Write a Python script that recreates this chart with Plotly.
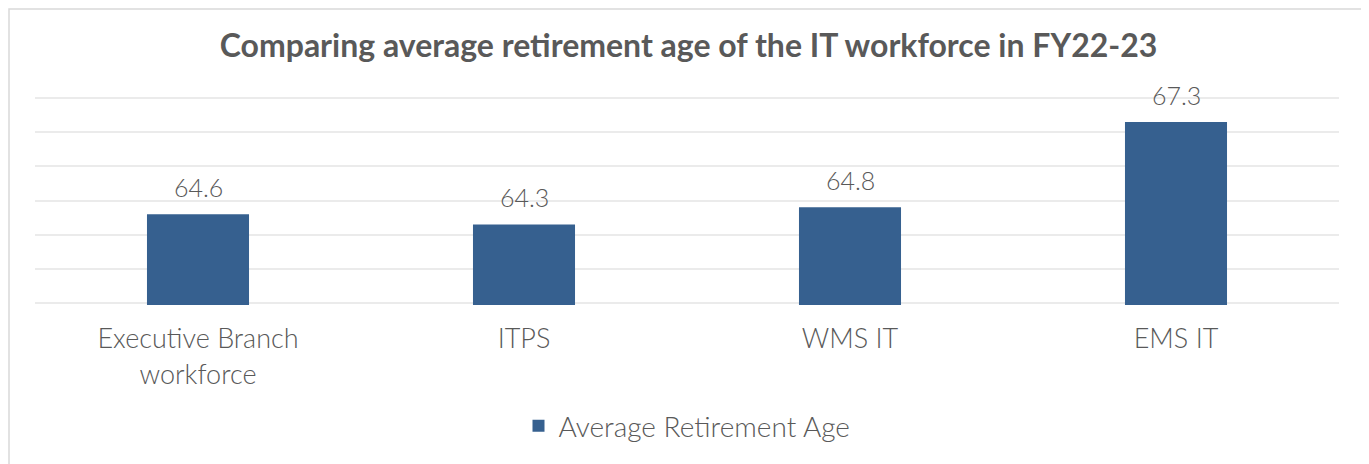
import plotly.graph_objects as go

categories = ["Executive Branch<br>workforce", "ITPS", "WMS IT", "EMS IT"]
values = [64.6, 64.3, 64.8, 67.3]
series_name = "Average Retirement Age"
title_text = "Comparing average retirement age of the IT workforce in FY22-23"

BAR = "#36608F"
TXT = "#595959"
FONT = "Lato, 'Noto Sans', sans-serif"

# page body has an 8px margin; work in page pixels and offset
OFF = 8
W, H = 1369 - OFF, 464 - OFF
ml, mr, mt, mb = 35 - OFF, 30, 96 - OFF, 159
pw, ph = W - ml - mr, H - mt - mb

def px2paper(x, y):
    return (x - OFF - ml) / pw, (H - mb - (y - OFF)) / ph

fig = go.Figure()
fig.add_trace(go.Bar(
    x=categories, y=values, name=series_name,
    marker=dict(color=BAR, line=dict(width=0)),
    width=0.313, showlegend=True,
))

for c, v in zip(categories, values):
    fig.add_annotation(x=c, y=v, text=f"{v:.1f}", showarrow=False,
                       yanchor="bottom", yshift=10,
                       font=dict(family=FONT, size=25, color=TXT, weight=300))

x0, y0 = px2paper(OFF + 1, OFF + 1)
x1, y1 = px2paper(1365, 480)
fig.add_shape(type="rect", xref="paper", yref="paper", x0=x0, y0=y1, x1=x1, y1=y0,
              line=dict(color="#D9D9D9", width=1.5), fillcolor="rgba(0,0,0,0)", layer="below")

fig.update_layout(
    width=W, height=H,
    margin=dict(l=ml, r=mr, t=mt, b=mb),
    paper_bgcolor="white", plot_bgcolor="white",
    title=dict(text=f"<b>{title_text}</b>", x=0.5, xanchor="center",
               y=1 - (46 - OFF) / H, yanchor="middle",
               font=dict(family=FONT, size=32, color=TXT)),
    bargap=0.687,
    xaxis=dict(showgrid=False, showline=False, zeroline=False,
               ticks="outside", ticklen=10, tickcolor="rgba(0,0,0,0)",
               tickfont=dict(family=FONT, size=27, color=TXT, weight=300)),
    yaxis=dict(range=[61.94, 68.06], tickvals=[62, 63, 64, 65, 66, 67, 68],
               showticklabels=False,
               showgrid=True, gridcolor="#EBEBEB", gridwidth=1.5,
               zeroline=False, showline=False),
    legend=dict(orientation="h", x=0.5, xanchor="center",
                y=(H - mb - (426 - OFF)) / ph, yanchor="middle",
                font=dict(family=FONT, size=28, color=TXT, weight=300),
                itemwidth=30),
    showlegend=True,
)

fig.write_html("out.html")
